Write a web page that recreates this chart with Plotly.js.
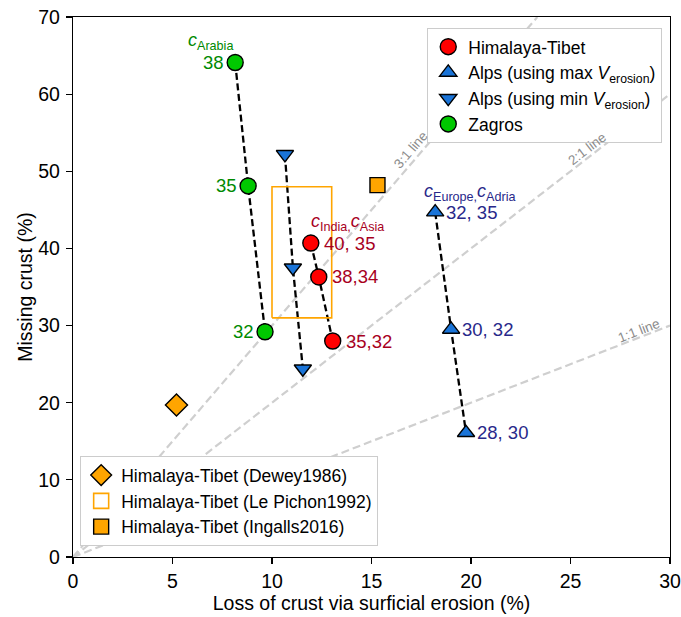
<!DOCTYPE html>
<html><head><meta charset="utf-8">
<script src="https://cdn.plot.ly/plotly-3.0.1.min.js"></script>
<style>body{margin:0;background:#fff}</style>
</head><body><div id="chart" style="width:681px;height:617px"></div>
<script>
// ---- data ----
const himX = [11.95, 12.35, 13.05];
const himY = [40.7, 36.3, 28.0];
const himLabels = ['40, 35', '38,34', '35,32'];
const alpsMaxX = [18.2, 19.0, 19.75];
const alpsMaxY = [44.7, 29.5, 16.1];
const alpsMaxLabels = ['32, 35', '30, 32', '28, 30'];
const alpsMinX = [10.65, 11.05, 11.55];
const alpsMinY = [52.2, 37.5, 24.4];
const zagX = [8.15, 8.8, 9.65];
const zagY = [64.1, 48.1, 29.2];
const zagLabels = ['38', '35', '32'];
const deweyX = [5.2];
const deweyY = [19.7];
const lePichonX = [10.0, 13.0];
const lePichonY = [31.0, 48.0];
const ingallsX = [15.3];
const ingallsY = [48.2];
const refRatios = [3, 2, 1];
const refLabels = ['3:1 line', '2:1 line', '1:1 line'];
const xTicks = [0, 5, 10, 15, 20, 25, 30];
const yTicks = [0, 10, 20, 30, 40, 50, 60, 70];

// ---- styles ----
const FONT = 'Liberation Sans, Arial, sans-serif';
const XMAX = 30, YMAX = 70;
const GREEN = '#00c800', RED = '#ff0000', BLUE = '#1a74d8', ORANGE = '#ffa500';
const GREEN_T = '#008a00', RED_T = '#a8001e', BLUE_T = '#28288a';
const refLabelPos = [[17.0, 52.8], [25.85, 53.0], [28.45, 29.4]];
const LEGFONT = 17.5;
const M = {l: 73, r: 11, t: 17, b: 60};

const traces = [];
refRatios.forEach(r => {
  const xe = Math.min(XMAX, YMAX / r);
  traces.push({x: [0, xe], y: [0, r * xe], mode: 'lines', showlegend: false, hoverinfo: 'skip',
    line: {color: '#cfcfcf', width: 2.2, dash: '8px,4px'}});
});
[[zagX, zagY], [himX, himY], [alpsMaxX, alpsMaxY], [alpsMinX, alpsMinY]].forEach(([x, y]) => {
  traces.push({x: x, y: y, mode: 'lines', showlegend: false, hoverinfo: 'skip',
    line: {color: '#000', width: 2.3, dash: '7px,3.5px'}});
});
// Le Pichon box (outline only)
traces.push({x: [lePichonX[0], lePichonX[1], lePichonX[1], lePichonX[0], lePichonX[0]],
  y: [lePichonY[0], lePichonY[0], lePichonY[1], lePichonY[1], lePichonY[0]],
  mode: 'lines', showlegend: false, hoverinfo: 'skip', line: {color: ORANGE, width: 1.6}});

const mline = {color: '#000', width: 1.4};
traces.push({x: himX, y: himY, mode: 'markers', name: 'Himalaya-Tibet', legend: 'legend',
  marker: {symbol: 'circle', size: 16, color: RED, line: mline}});
traces.push({x: alpsMaxX, y: alpsMaxY, mode: 'markers', name: 'Alps (using max <i>V</i><sub>erosion</sub>)', legend: 'legend',
  marker: {symbol: 'triangle-up', size: 15, color: BLUE, line: mline}});
traces.push({x: alpsMinX, y: alpsMinY, mode: 'markers', name: 'Alps (using min <i>V</i><sub>erosion</sub>)', legend: 'legend',
  marker: {symbol: 'triangle-down', size: 15, color: BLUE, line: mline}});
traces.push({x: zagX, y: zagY, mode: 'markers', name: 'Zagros', legend: 'legend',
  marker: {symbol: 'circle', size: 16, color: GREEN, line: mline}});
traces.push({x: deweyX, y: deweyY, mode: 'markers', name: 'Himalaya-Tibet (Dewey1986)', legend: 'legend2',
  marker: {symbol: 'diamond', size: 17, color: ORANGE, line: mline}});
traces.push({x: [null], y: [null], mode: 'markers', name: 'Himalaya-Tibet (Le Pichon1992)', legend: 'legend2',
  marker: {symbol: 'square-open', size: 15, color: ORANGE, line: {color: ORANGE, width: 1.6}}});
traces.push({x: ingallsX, y: ingallsY, mode: 'markers', name: 'Himalaya-Tibet (Ingalls2016)', legend: 'legend2',
  marker: {symbol: 'square', size: 15, color: ORANGE, line: mline}});

const annotations = [];
const lf = (c) => ({family: FONT, size: 18.5, color: c});
zagX.forEach((x, i) => annotations.push({x: x, y: zagY[i], text: zagLabels[i], showarrow: false,
  xanchor: 'right', xshift: -9, font: lf(GREEN_T)}));
himX.forEach((x, i) => annotations.push({x: x, y: himY[i], text: himLabels[i], showarrow: false,
  xanchor: 'left', xshift: 11, font: lf(RED_T)}));
alpsMaxX.forEach((x, i) => annotations.push({x: x, y: alpsMaxY[i], text: alpsMaxLabels[i], showarrow: false,
  xanchor: 'left', xshift: 9, font: lf(BLUE_T)}));
const hf = (c) => ({family: FONT, size: 18, color: c});
annotations.push({x: zagX[0], y: zagY[0], text: '<i>c</i><sub>Arabia</sub>', showarrow: false,
  xanchor: 'center', xshift: -25, yshift: 21, font: hf(GREEN_T)});
annotations.push({x: himX[0], y: himY[0], text: '<i>c</i><sub>India,</sub><i>c</i><sub>Asia</sub>', showarrow: false,
  xanchor: 'left', xshift: -2, yshift: 21, font: hf(RED_T)});
annotations.push({x: alpsMaxX[0], y: alpsMaxY[0], text: '<i>c</i><sub>Europe,</sub><i>c</i><sub>Adria</sub>', showarrow: false,
  xanchor: 'left', xshift: -13, yshift: 20, font: hf(BLUE_T)});
const pxPerX = (681 - M.l - M.r) / XMAX, pxPerY = (617 - M.t - M.b) / YMAX;
refRatios.forEach((r, i) => {
  const ang = Math.atan(r * pxPerY / pxPerX) * 180 / Math.PI;
  annotations.push({x: refLabelPos[i][0], y: refLabelPos[i][1], text: refLabels[i], showarrow: false,
    textangle: -ang, font: {family: FONT, size: 13.5, color: '#8c8c8c'}});
});

const axisCommon = {showgrid: false, zeroline: false, showline: true, mirror: true, linecolor: '#000', linewidth: 1.2,
  ticks: 'outside', ticklen: 6, tickwidth: 1.2, tickcolor: '#000', ticklabeloverflow: 'allow',
  tickfont: {family: FONT, size: 19.5, color: '#000'}};

const layout = {
  width: 681, height: 617,
  margin: M,
  paper_bgcolor: '#fff', plot_bgcolor: '#fff',
  font: {family: FONT, size: 19.5, color: '#000'},
  xaxis: Object.assign({}, axisCommon, {range: [0, XMAX], tickvals: xTicks, ticktext: xTicks.map(String),
    title: {text: 'Loss of crust via surficial erosion (%)', font: {family: FONT, size: 19.5}, standoff: 4}}),
  yaxis: Object.assign({}, axisCommon, {range: [0, YMAX], tickvals: yTicks, ticktext: yTicks.map(String),
    ticklabelstandoff: 2,
    title: {text: 'Missing crust (%)', font: {family: FONT, size: 19.5}, standoff: 0}}),
  legend: {x: 0.987, y: 0.98, xanchor: 'right', yanchor: 'top', bgcolor: '#fff', bordercolor: '#cccccc', borderwidth: 1,
    font: {family: FONT, size: LEGFONT}, tracegroupgap: 0},
  legend2: {x: 0.012, y: 0.02, xanchor: 'left', yanchor: 'bottom', bgcolor: '#fff', bordercolor: '#cccccc', borderwidth: 1,
    font: {family: FONT, size: LEGFONT}, tracegroupgap: 0},
  annotations: annotations,
  showlegend: true
};
Plotly.newPlot('chart', traces, layout, {displayModeBar: false, staticPlot: true});
</script></body></html>
